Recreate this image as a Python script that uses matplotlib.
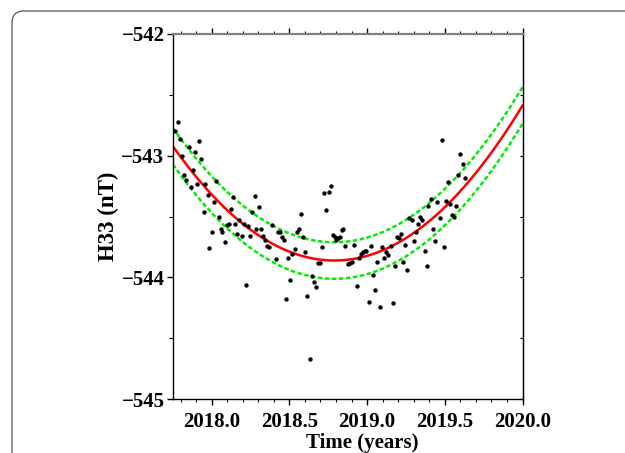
import numpy as np
import matplotlib
matplotlib.use("Agg")
import matplotlib.pyplot as plt
from matplotlib.patches import FancyBboxPatch
from matplotlib.transforms import IdentityTransform
from matplotlib.ticker import MultipleLocator

plt.rcParams['font.family'] = ['Liberation Serif', 'DejaVu Serif']
plt.rcParams['font.weight'] = 'bold'
plt.rcParams['axes.labelweight'] = 'bold'
plt.rcParams['font.size'] = 15

# observed H33 values (nT) against time (years)
obs_time = [
    2017.765, 2017.782, 2017.798, 2017.810, 2017.851, 2017.890, 2017.920, 2017.933,
    2017.821, 2017.836, 2017.866, 2017.879, 2017.904, 2017.958, 2017.975, 2017.948,
    2018.014, 2018.031, 2018.044, 2018.061, 2018.100, 2018.110, 2018.126, 2018.140,
    2018.152, 2018.179, 2018.211, 2018.233, 2018.261, 2018.276, 2018.303, 2018.287,
    2018.319, 2018.385, 2018.565, 2018.576, 2018.726, 2018.754, 2018.769, 2018.737,
    2018.844,
    2017.999, 2017.986, 2018.068, 2018.085, 2018.166, 2018.194, 2018.222, 2018.248,
    2018.329, 2018.345, 2018.357, 2018.370, 2018.413, 2018.426, 2018.439, 2018.450,
    2018.464, 2018.480, 2018.493, 2018.507, 2018.520, 2018.535, 2018.548, 2018.589,
    2018.602, 2018.615, 2018.630, 2018.643, 2018.657, 2018.670, 2018.681, 2018.696,
    2018.711, 2018.782, 2018.792, 2018.803, 2018.814, 2018.823, 2018.838, 2018.861,
    2018.876, 2018.892, 2018.904, 2018.917, 2018.932, 2018.947, 2018.960, 2018.973,
    2018.984, 2018.996, 2019.011, 2019.027, 2019.040, 2019.054, 2019.067, 2019.082,
    2019.095, 2019.108, 2019.120, 2019.136, 2019.151, 2019.164, 2019.191,
    2019.177, 2019.204, 2019.220, 2019.233, 2019.245, 2019.260, 2019.271, 2019.286,
    2019.301, 2019.314, 2019.327, 2019.339, 2019.355, 2019.370, 2019.383, 2019.395,
    2019.410, 2019.426, 2019.438, 2019.451, 2019.466, 2019.481, 2019.492, 2019.505,
    2019.532, 2019.545, 2019.561, 2019.574, 2019.520, 2019.588, 2019.601, 2019.614,
    2019.629,
]
obs_h33 = [
    -542.80, -542.72, -542.86, -543.00, -542.93, -542.97, -542.88, -543.03,
    -543.16, -543.20, -543.26, -543.12, -543.23, -543.23, -543.32, -543.46,
    -543.38, -543.21, -543.50, -543.60, -543.57, -543.56, -543.44, -543.34,
    -543.56, -543.53, -543.56, -543.58, -543.46, -543.33, -543.42, -543.60,
    -543.60, -543.57, -543.60, -543.48, -543.31, -543.30, -543.25, -543.45,
    -543.60,
    -543.63, -543.76, -543.63, -543.71, -543.64, -543.66, -544.06, -543.66,
    -543.66, -543.69, -543.74, -543.75, -543.85, -543.63, -543.63, -543.67,
    -543.69, -544.18, -543.84, -544.02, -543.81, -543.77, -543.63, -543.67,
    -543.79, -544.15, -544.67, -543.99, -544.04, -544.08, -543.88, -543.88,
    -543.75, -543.65, -543.67, -543.69, -543.68, -543.67, -543.61, -543.74,
    -543.89, -543.88, -543.87, -543.73, -544.07, -543.84, -543.81, -543.79,
    -543.78, -543.78, -544.20, -543.74, -543.98, -544.10, -543.87, -544.24,
    -543.75, -543.84, -543.79, -543.82, -543.74, -544.21, -543.67,
    -543.91, -543.68, -543.64, -543.87, -543.73, -543.94, -543.51, -543.53,
    -543.70, -543.63, -543.56, -543.50, -543.53, -543.78, -543.91, -543.41,
    -543.36, -543.60, -543.70, -543.38, -543.51, -542.87, -543.75, -543.37,
    -543.40, -543.49, -543.50, -543.41, -543.22, -543.16, -542.99, -543.07,
    -543.18,
]

model_time = [2017.75, 2018.0, 2018.25, 2018.5, 2018.75, 2019.0, 2019.25, 2019.5, 2019.75, 2020.0]
model_h33 = [-542.92, -543.32, -543.61, -543.79, -543.86, -543.82, -543.68, -543.42, -543.06, -542.59]
band = 0.15

fig = plt.figure(figsize=(6.25, 4.53), dpi=100)
ax = fig.add_axes([0.2765, 0.119, 0.5595, 0.806])

# smooth the model through the read values
coef = np.polyfit(model_time, model_h33, 2)
tt = np.linspace(model_time[0], model_time[-1], 300)
mm = np.polyval(coef, tt)

green = '#00ee00'
ax.plot(tt, mm + band, color=green, lw=1.8, dashes=(1.8, 1.0))
ax.plot(tt, mm - band, color=green, lw=1.8, dashes=(1.8, 1.0))
ax.plot(tt, mm, color='red', lw=1.8)
ax.scatter(obs_time, obs_h33, s=10, color='black', zorder=3, linewidths=0)

ax.set_xlim(2017.75, 2020.0)
ax.set_ylim(-545, -542)
ax.set_xticks([2018.0, 2018.5, 2019.0, 2019.5, 2020.0])
ax.set_xticklabels(['%.1f' % v for v in [2018.0, 2018.5, 2019.0, 2019.5, 2020.0]])
ax.xaxis.set_minor_locator(MultipleLocator(0.1))
ax.set_yticks([-545, -544, -543, -542])
ax.yaxis.set_minor_locator(MultipleLocator(0.5))

ax.tick_params(axis='x', which='both', direction='out', top=True, bottom=True, pad=5)
ax.tick_params(axis='x', which='major', length=4, width=1)
ax.tick_params(axis='x', which='minor', length=2.5, width=0.8)
ax.tick_params(axis='y', which='both', direction='out', left=True, right=False, pad=2)
ax.tick_params(axis='y', which='major', length=4, width=1)
ax.tick_params(axis='y', which='minor', length=3, width=0.8)

ax.spines['top'].set_color('#808080')
ax.spines['top'].set_linewidth(1.6)
for s in ['left', 'right', 'bottom']:
    ax.spines[s].set_linewidth(1.0)

right = ax.secondary_yaxis('right')
right.set_yticks([-545, -544, -543, -542])
right.yaxis.set_minor_locator(MultipleLocator(0.5))
right.tick_params(which='both', direction='in', labelright=False, length=2.5, width=0.8)

ax.set_xlabel('Time (years)')
ax.set_ylabel('H33 (nT)', fontsize=16.5)
ax.xaxis.set_label_coords(0.543, -0.093)
ax.yaxis.set_label_coords(-0.155, 0.5)

# journal figure frame
frame = FancyBboxPatch((12, -40), 680, 482, boxstyle='round,pad=0,rounding_size=12',
                       transform=IdentityTransform(), facecolor='none',
                       edgecolor='#555555', lw=0.9, clip_on=False)
fig.patches.append(frame)

fig.savefig('out.png', dpi=100)
